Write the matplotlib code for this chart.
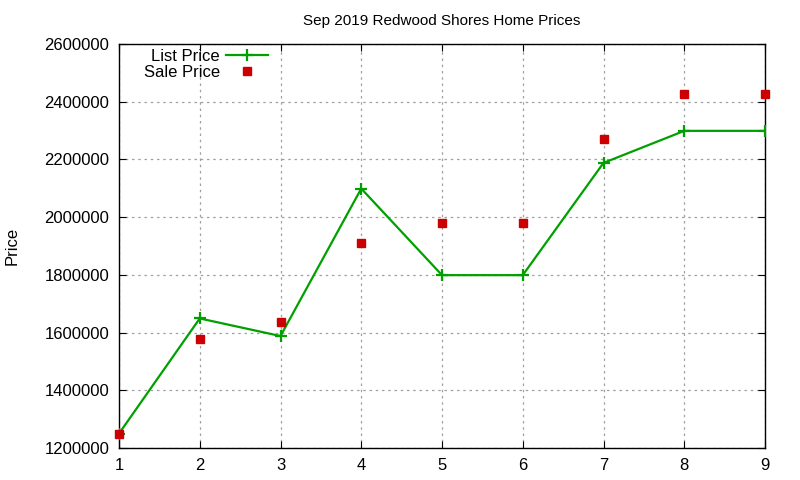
import matplotlib.pyplot as plt

plt.rcParams['font.family'] = ['Liberation Sans', 'DejaVu Sans']

# datos
house = [1, 2, 3, 4, 5, 6, 7, 8, 9]
list_price = [1250000, 1649000, 1588000, 2099000, 1799000, 1799000, 2188000, 2299000, 2299000]
sale_price = [1248000, 1578000, 1638000, 1910000, 1978000, 1978000, 2270000, 2428000, 2428000]

fig = plt.figure(figsize=(8, 4.8), dpi=100)
ax = fig.add_axes([119/800, 1 - 448/480, (765-119)/800, (448-44)/480])

ax.plot(house, list_price, color='#00a000', linewidth=1.6, marker='+',
        markersize=8, markeredgewidth=1.6, label='List Price', zorder=3)
ax.plot(house, sale_price, linestyle='none', color='#cc0000', marker='s',
        markersize=6, label='Sale Price', zorder=4, clip_on=False)

ax.set_xlim(1, 9)
ax.set_ylim(1200000, 2600000)
ax.set_xticks(house)
ax.set_yticks(range(1200000, 2600001, 200000))
ax.ticklabel_format(style='plain', axis='y')
ax.tick_params(direction='in', top=True, right=True, labelsize=12, length=5, pad=7)
ax.grid(True, color='#a0a0a0', linestyle=(0, (2, 3)), linewidth=0.9)
for s in ax.spines.values():
    s.set_linewidth(1.0)

ax.set_title('Sep 2019 Redwood Shores Home Prices', fontsize=11, pad=14)
fig.text(12/800, 1 - 246/480, 'Price', rotation=90, fontsize=12, ha='center', va='center')

ax.legend(loc='upper left', bbox_to_anchor=(0.02, 1.017), frameon=False, markerfirst=False,
          fontsize=12, handlelength=2.5, labelspacing=0.05, borderaxespad=0.3,
          handletextpad=0.4)

fig.savefig('out.png', dpi=100)
